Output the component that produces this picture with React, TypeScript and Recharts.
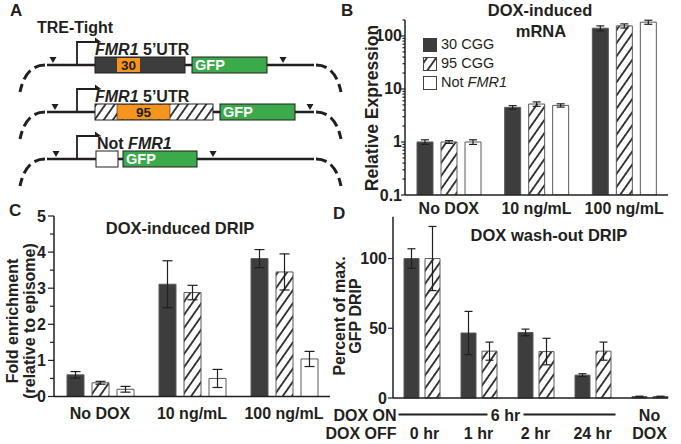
import { BarChart, Bar, XAxis, YAxis, ErrorBar, Legend } from 'recharts';

const FONT = '"Liberation Sans", Arial, Helvetica, sans-serif';
const INK = '#231f20';
const DARK = '#3d3d3d';
const EDGE = '#5a5a5a';
const ORANGE = '#f7941d';
const GREEN = '#3aaa4a';

// B: DOX-induced mRNA (log axis)
const doseLabels = ['No DOX', '10 ng/mL', '100 ng/mL'];
const mrna30 = [1.0, 4.5, 140];
const mrna30Err = [0.1, 0.35, 15];
const mrna95 = [1.0, 5.2, 155];
const mrna95Err = [0.06, 0.5, 14];
const mrnaNot = [1.0, 4.9, 182];
const mrnaNotErr = [0.1, 0.35, 16];
const mrnaMajorTicks = [0.1, 1, 10, 100];
const mrnaMinorTicks = [0.2, 0.3, 0.4, 0.5, 0.6, 0.7, 0.8, 0.9, 2, 3, 4, 5, 6, 7, 8, 9, 20, 30, 40, 50, 60, 70, 80, 90, 200];

// C: DOX-induced DRIP
const drip30 = [0.6, 3.11, 3.82];
const drip30Err = [0.09, 0.65, 0.25];
const drip95 = [0.38, 2.88, 3.45];
const drip95Err = [0.04, 0.2, 0.5];
const dripNot = [0.2, 0.5, 1.04];
const dripNotErr = [0.08, 0.25, 0.21];
const dripMajorTicks = [0, 1, 2, 3, 4, 5];
const dripMinorTicks = [0.5, 1.5, 2.5, 3.5, 4.5];

// D: DOX wash-out DRIP
const washLabels = ['0 hr', '1 hr', '2 hr', '24 hr', 'No DOX'];
const wash30 = [100, 46.6, 47, 16.4, 1];
const wash30Err = [7, 15.5, 2.4, 1, 0.3];
const wash95 = [100, 33.6, 33.3, 33.6, 1];
const wash95Err = [23, 6.5, 9.5, 6.5, 0.3];
const washTicks = [0, 50, 100];

const seriesNames = ['30 CGG', '95 CGG', 'Not FMR1'];

const AXIS_LINE = { stroke: INK, strokeWidth: 1.5 };
const txt = { fontFamily: FONT, fill: INK };

function yTick(major: number[], majorLen: number, minorLen: number, gap: number) {
  return (p: any) => {
    const v = p.payload.value;
    const isMajor = major.includes(v);
    return (
      <g>
        <line x1={p.x - (isMajor ? majorLen : minorLen)} x2={p.x} y1={p.y} y2={p.y} stroke={INK} strokeWidth={1.2} />
        {isMajor && (
          <text x={p.x - gap} y={p.y + 5.5} textAnchor="end" fontSize={16} fontWeight={700} {...txt}>
            {v}
          </text>
        )}
      </g>
    );
  };
}

function catTick(dy: number) {
  return (p: any) => (
    <text x={p.x} y={p.y + dy} textAnchor="middle" fontSize={16} fontWeight={700} {...txt}>
      {p.payload.value}
    </text>
  );
}

function washTick(p: any) {
  const v = p.payload.value;
  const r1 = p.y + 22.5;
  const r2 = p.y + 41;
  const lineY = p.y + 16.5;
  if (v === 'No DOX') {
    return (
      <g>
        <text x={p.x} y={r1} textAnchor="middle" fontSize={16} fontWeight={700} {...txt}>No</text>
        <text x={p.x} y={r2} textAnchor="middle" fontSize={16} fontWeight={700} {...txt}>DOX</text>
      </g>
    );
  }
  return (
    <g>
      <text x={p.index === 0 ? p.x + 3 : p.x} y={r2} textAnchor="middle" fontSize={16} fontWeight={700} {...txt}>{v}</text>
      {p.index === 0 && (
        <g>
          <text x={p.x - 25} y={r1} textAnchor="end" fontSize={16} fontWeight={700} {...txt}>DOX ON</text>
          <text x={p.x - 25} y={r2} textAnchor="end" fontSize={16} fontWeight={700} {...txt}>DOX OFF</text>
          <line x1={p.x - 23} x2={p.x + 66} y1={lineY} y2={lineY} stroke={INK} strokeWidth={2} />
          <text x={p.x + 84} y={r1} textAnchor="middle" fontSize={16} fontWeight={700} {...txt}>6 hr</text>
          <line x1={p.x + 102} x2={p.x + 194} y1={lineY} y2={lineY} stroke={INK} strokeWidth={2} />
        </g>
      )}
    </g>
  );
}

function Swatch({ kind }: { kind: number }) {
  const fill = kind === 0 ? DARK : kind === 1 ? 'url(#hatch)' : '#fff';
  return (
    <svg width={15} height={14} style={{ display: 'block' }}>
      <rect x={0.5} y={0.5} width={13} height={13} fill={fill} stroke={kind === 0 ? DARK : '#444'} />
    </svg>
  );
}

function MrnaLegend() {
  return (
    <div style={{ fontFamily: FONT, fontSize: 14.5, color: INK, lineHeight: '19px' }}>
      {seriesNames.map((n, i) => (
        <div key={n} style={{ display: 'flex', alignItems: 'center', height: 19 }}>
          <Swatch kind={i} />
          <span style={{ marginLeft: 3 }}>
            {n === 'Not FMR1' ? (
              <>
                Not <i>FMR1</i>
              </>
            ) : (
              n
            )}
          </span>
        </div>
      ))}
    </div>
  );
}

function Schematic() {
  const rows = [65, 112, 159];
  const tris = [
    [53, 283],
    [55, 310],
    [56, 213],
  ];
  const bold = { fontFamily: FONT, fontWeight: 700 };
  return (
    <g>
      <text x={37} y={33} fontSize={16} {...bold} fill={INK}>TRE-Tight</text>
      {rows.map((y, i) => (
        <g key={y}>
          <path d={`M45,${y} C33,${y} 24,${y + 8} 20,${y + 27}`} fill="none" stroke={INK} strokeWidth={3} strokeDasharray="11 5" />
          <path d={`M316,${y} C328,${y} 337,${y + 8} 341,${y + 27}`} fill="none" stroke={INK} strokeWidth={3} strokeDasharray="11 5" />
          <line x1={47} x2={314} y1={y} y2={y} stroke={INK} strokeWidth={2.6} />
          {tris[i].map((tx) => (
            <polygon key={tx} points={`${tx - 3.5},${y - 8} ${tx + 3.5},${y - 8} ${tx},${y - 2}`} fill={INK} />
          ))}
          <path d={`M77,${y} V${y - 23} H99`} fill="none" stroke={INK} strokeWidth={1.8} />
          <path d={`M95,${y - 27} L100.5,${y - 23} L95,${y - 23}`} fill={INK} stroke={INK} strokeWidth={1} />
        </g>
      ))}
      {/* row 1: 30 CGG */}
      <rect x={95} y={57} width={90} height={16} fill={DARK} stroke={INK} />
      <rect x={117} y={58} width={23} height={14} fill={ORANGE} />
      <text x={128.5} y={70} textAnchor="middle" fontSize={13.5} {...bold} fill={INK}>30</text>
      <rect x={192} y={57} width={75} height={16} fill={GREEN} stroke={INK} />
      <text x={195} y={70} fontSize={14.5} {...bold} fill="#fff">GFP</text>
      <text x={95} y={55} fontSize={16} {...bold} fill={INK}>
        <tspan fontStyle="italic">FMR1</tspan> 5’UTR
      </text>
      {/* row 2: 95 CGG */}
      <rect x={95} y={104} width={118} height={16} fill="url(#hatch)" stroke={INK} />
      <rect x={117} y={104.5} width={53} height={15} fill={ORANGE} stroke={INK} strokeWidth={0.6} />
      <text x={143.5} y={117} textAnchor="middle" fontSize={13.5} {...bold} fill={INK}>95</text>
      <rect x={220} y={104} width={75} height={16} fill={GREEN} stroke={INK} />
      <text x={223} y={117} fontSize={14.5} {...bold} fill="#fff">GFP</text>
      <text x={95} y={102} fontSize={16} {...bold} fill={INK}>
        <tspan fontStyle="italic">FMR1</tspan> 5’UTR
      </text>
      {/* row 3: not FMR1 */}
      <rect x={96} y={151} width={22} height={16} fill="#fff" stroke={INK} />
      <rect x={123} y={151} width={74} height={16} fill={GREEN} stroke={INK} />
      <text x={126} y={164} fontSize={14.5} {...bold} fill="#fff">GFP</text>
      <text x={97} y={149} fontSize={16} {...bold} fill={INK}>
        Not <tspan fontStyle="italic">FMR1</tspan>
      </text>
    </g>
  );
}

function Overlay() {
  const b = { fontFamily: FONT, fontWeight: 700, fill: INK };
  const vt = (x: number, y: number, s: string, size = 16) => (
    <text transform={`translate(${x},${y}) rotate(-90)`} textAnchor="middle" dominantBaseline="central" fontSize={size} {...b}>
      {s}
    </text>
  );
  return (
    <svg width={681} height={444} style={{ position: 'absolute', left: 0, top: 0, pointerEvents: 'none' }}>
      <Schematic />
      <text x={10} y={16} fontSize={17} {...b}>A</text>
      <text x={341} y={16} fontSize={17} {...b}>B</text>
      <text x={9} y={216} fontSize={17} {...b}>C</text>
      <text x={333} y={219} fontSize={17} {...b}>D</text>
      <text x={540} y={16} textAnchor="middle" fontSize={16.5} {...b}>DOX-induced</text>
      <text x={541} y={37} textAnchor="middle" fontSize={16.5} {...b}>mRNA</text>
      <text x={180} y={234} textAnchor="middle" fontSize={16.5} {...b}>DOX-induced DRIP</text>
      <text x={549} y={241} textAnchor="middle" fontSize={16.5} {...b}>DOX wash-out DRIP</text>
      {vt(372, 108, 'Relative Expression', 17.5)}
      {vt(12, 321, 'Fold enrichment')}
      {vt(29, 321, '(relative to episome)')}
      {vt(339, 316, 'Percent of max.')}
      {vt(355, 316, 'GFP DRIP')}
    </svg>
  );
}

export default function App() {
  const mrnaData = doseLabels.map((name, i) => ({
    name,
    a: mrna30[i], aErr: mrna30Err[i],
    b: mrna95[i], bErr: mrna95Err[i],
    c: mrnaNot[i], cErr: mrnaNotErr[i],
  }));
  const dripData = doseLabels.map((name, i) => ({
    name,
    a: drip30[i], aErr: drip30Err[i],
    b: drip95[i], bErr: drip95Err[i],
    c: dripNot[i], cErr: dripNotErr[i],
  }));
  const washData = washLabels.map((name, i) => ({
    name,
    a: wash30[i], aErr: wash30Err[i],
    b: wash95[i], bErr: wash95Err[i],
  }));
  const mrnaTicks = [...mrnaMajorTicks, ...mrnaMinorTicks].sort((x, y) => x - y);
  const dripTicks = [...dripMajorTicks, ...dripMinorTicks].sort((x, y) => x - y);
  const eb = { stroke: INK, strokeWidth: 1.2 };

  return (
    <div style={{ position: 'absolute', left: 0, top: 0, width: 681, height: 444, background: '#fff', overflow: 'hidden', fontFamily: FONT }}>
      <svg width={0} height={0} style={{ position: 'absolute' }}>
        <defs>
          <pattern id="hatch" patternUnits="userSpaceOnUse" width={7.5} height={7.5} patternTransform="rotate(35)">
            <rect width={7.5} height={7.5} fill="#fff" />
            <line x1={3.75} y1={0} x2={3.75} y2={7.5} stroke="#000" strokeWidth={1.5} />
          </pattern>
        </defs>
      </svg>

      <div style={{ position: 'absolute', left: 340, top: 0 }}>
        <BarChart width={341} height={220} data={mrnaData} margin={{ top: 20, right: 13, bottom: 0, left: 0 }} barSize={16} barGap={8}>
          <XAxis dataKey="name" height={25} tickSize={0} tickMargin={0} tickLine={false} axisLine={AXIS_LINE} interval={0} tick={catTick(18.5)} />
          <YAxis
            scale="log"
            domain={[0.1, 200]}
            allowDataOverflow
            ticks={mrnaTicks}
            interval={0}
            width={65}
            tickSize={0}
            tickMargin={0}
            tickLine={false}
            axisLine={AXIS_LINE}
            tick={yTick(mrnaMajorTicks, 4, 2.5, 3)}
          />
          <Legend
            layout="vertical"
            align="center"
            verticalAlign="middle"
            wrapperStyle={{ left: 83, top: 35, width: 120 }}
            content={() => <MrnaLegend />}
          />
          <Bar dataKey="a" name={seriesNames[0]} fill={DARK} stroke={EDGE} isAnimationActive={false}>
            <ErrorBar dataKey="aErr" direction="y" width={4} {...eb} />
          </Bar>
          <Bar dataKey="b" name={seriesNames[1]} fill="url(#hatch)" stroke={EDGE} isAnimationActive={false}>
            <ErrorBar dataKey="bErr" direction="y" width={4} {...eb} />
          </Bar>
          <Bar dataKey="c" name={seriesNames[2]} fill="#fff" stroke={EDGE} isAnimationActive={false}>
            <ErrorBar dataKey="cErr" direction="y" width={4} {...eb} />
          </Bar>
        </BarChart>
      </div>

      <div style={{ position: 'absolute', left: 0, top: 205 }}>
        <BarChart width={340} height={239} data={dripData} margin={{ top: 11, right: 10, bottom: 0, left: 0 }} barSize={17} barGap={8}>
          <XAxis dataKey="name" height={47.5} tickSize={0} tickMargin={0} tickLine={false} axisLine={AXIS_LINE} interval={0} tick={catTick(22.5)} />
          <YAxis
            domain={[0, 5]}
            ticks={dripTicks}
            interval={0}
            width={54}
            tickSize={0}
            tickMargin={0}
            tickLine={false}
            axisLine={AXIS_LINE}
            tick={yTick(dripMajorTicks, 6, 4, 8)}
          />
          <Bar dataKey="a" fill={DARK} stroke={EDGE} isAnimationActive={false}>
            <ErrorBar dataKey="aErr" direction="y" width={5} {...eb} />
          </Bar>
          <Bar dataKey="b" fill="url(#hatch)" stroke={EDGE} isAnimationActive={false}>
            <ErrorBar dataKey="bErr" direction="y" width={5} {...eb} />
          </Bar>
          <Bar dataKey="c" fill="#fff" stroke={EDGE} isAnimationActive={false}>
            <ErrorBar dataKey="cErr" direction="y" width={5} {...eb} />
          </Bar>
        </BarChart>
      </div>

      <div style={{ position: 'absolute', left: 320, top: 205 }}>
        <BarChart width={361} height={239} data={washData} margin={{ top: 11.7, right: 13, bottom: 0, left: 0 }} barSize={15} barGap={6}>
          <XAxis
            dataKey="name"
            height={46}
            tickSize={0}
            tickMargin={0}
            tickLine={false}
            axisLine={AXIS_LINE}
            interval={0}
            padding={{ left: 0, right: -10 }}
            tick={washTick}
          />
          <YAxis
            domain={[0, 130]}
            ticks={washTicks}
            interval={0}
            width={73}
            tickSize={0}
            tickMargin={0}
            tickLine={false}
            axisLine={AXIS_LINE}
            tick={yTick(washTicks, 5, 5, 6)}
          />
          <Bar dataKey="a" fill={DARK} stroke={EDGE} isAnimationActive={false}>
            <ErrorBar dataKey="aErr" direction="y" width={4} {...eb} />
          </Bar>
          <Bar dataKey="b" fill="url(#hatch)" stroke={EDGE} isAnimationActive={false}>
            <ErrorBar dataKey="bErr" direction="y" width={4} {...eb} />
          </Bar>
        </BarChart>
      </div>

      <Overlay />
    </div>
  );
}
